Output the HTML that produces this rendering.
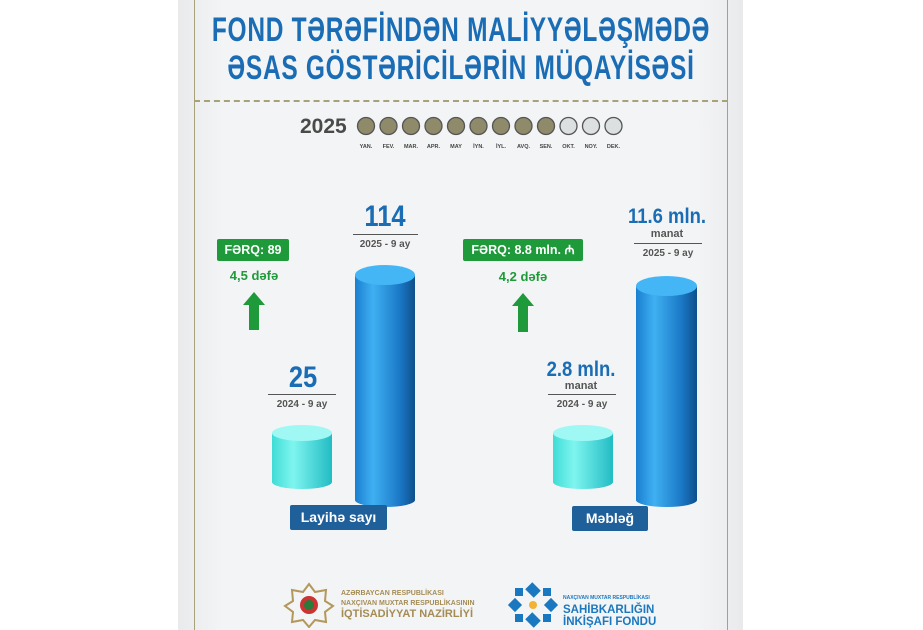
<!DOCTYPE html><html><head><meta charset="utf-8"><style>
body{margin:0;width:923px;height:630px;background:#fff;position:relative;overflow:hidden;font-family:"Liberation Sans",sans-serif}
.a{position:absolute}
.c{position:absolute;transform:translateX(-50%);white-space:nowrap;text-align:center}
.t{font-weight:bold;color:#1a6db5;font-size:34px;letter-spacing:1px;transform:translateX(-50%) scaleX(0.72)}
.sm{font-size:10px;font-weight:bold;color:#555}
.hl{position:absolute;height:1px;background:#555}
.box{position:absolute;background:#1f9a3a;color:#fff;font-weight:bold;font-size:12.5px;border-radius:2px;text-align:center;line-height:22px}
.g{color:#1f9a3a;font-weight:bold;font-size:13px}
.btn{position:absolute;background:#1f5f9a;color:#fff;font-weight:bold;font-size:14px;text-align:center;line-height:25px;border-radius:2px}
</style></head><body>
<div class="a" style="left:178px;top:0;width:565px;height:630px;background:linear-gradient(90deg,#e9eaec,#f3f4f5 8%,#f3f4f5 92%,#e9eaec)"></div>
<div class="a" style="left:194px;top:0;width:1px;height:630px;background:#a8a279"></div>
<div class="a" style="left:727px;top:0;width:1px;height:630px;background:#a8a279"></div>
<div class="a" style="left:194px;top:100px;width:534px;height:0;border-top:2px dashed #a8a279"></div>
<div class="c t" style="left:461px;top:11px">FOND TƏRƏFİNDƏN MALİYYƏLƏŞMƏDƏ</div>
<div class="c t" style="left:461px;top:49px">ƏSAS GÖSTƏRİCİLƏRİN MÜQAYİSƏSİ</div>
<div class="a" style="left:300px;top:115px;font-size:21px;font-weight:bold;color:#4a4a4a">2025</div>
<svg class="a" style="left:355px;top:115px" width="270" height="40">
<g stroke="#555" stroke-width="1.3">
<circle cx="11" cy="11" r="8.5" fill="#8e8a6a"/><circle cx="33.5" cy="11" r="8.5" fill="#8e8a6a"/><circle cx="56" cy="11" r="8.5" fill="#8e8a6a"/><circle cx="78.5" cy="11" r="8.5" fill="#8e8a6a"/><circle cx="101" cy="11" r="8.5" fill="#8e8a6a"/><circle cx="123.5" cy="11" r="8.5" fill="#8e8a6a"/><circle cx="146" cy="11" r="8.5" fill="#8e8a6a"/><circle cx="168.5" cy="11" r="8.5" fill="#8e8a6a"/><circle cx="191" cy="11" r="8.5" fill="#8e8a6a"/><circle cx="213.5" cy="11" r="8.5" fill="#dde0e1"/><circle cx="236" cy="11" r="8.5" fill="#dde0e1"/><circle cx="258.5" cy="11" r="8.5" fill="#dde0e1"/></g>
<g font-size="5.5" font-weight="bold" fill="#444" text-anchor="middle" font-family="Liberation Sans">
<text x="11" y="33">YAN.</text><text x="33.5" y="33">FEV.</text><text x="56" y="33">MAR.</text><text x="78.5" y="33">APR.</text><text x="101" y="33">MAY</text><text x="123.5" y="33">İYN.</text><text x="146" y="33">İYL.</text><text x="168.5" y="33">AVQ.</text><text x="191" y="33">SEN.</text><text x="213.5" y="33">OKT.</text><text x="236" y="33">NOY.</text><text x="258.5" y="33">DEK.</text></g></svg>
<svg class="a" style="left:0;top:0" width="923" height="630">
<defs>
<linearGradient id="b" x1="0" x2="1"><stop offset="0" stop-color="#1a7fd0"/><stop offset=".3" stop-color="#3fb0f2"/><stop offset=".75" stop-color="#1a78c6"/><stop offset="1" stop-color="#0f4f8a"/></linearGradient>
<linearGradient id="cy" x1="0" x2="1"><stop offset="0" stop-color="#3fdcd6"/><stop offset=".35" stop-color="#7ff5ef"/><stop offset="1" stop-color="#22bcc4"/></linearGradient>
</defs>
<path d="M272 433 V482 A30 7 0 0 0 332 482 V433Z" fill="url(#cy)"/><ellipse cx="302" cy="433" rx="30" ry="8" fill="#9ff8f3"/>
<path d="M553 433 V482 A30 7 0 0 0 613 482 V433Z" fill="url(#cy)"/><ellipse cx="583" cy="433" rx="30" ry="8" fill="#9ff8f3"/>
<path d="M355 275 V500 A30 7 0 0 0 415 500 V275Z" fill="url(#b)"/><ellipse cx="385" cy="275" rx="30" ry="10" fill="#45b6f5"/>
<path d="M636 286 V500 A30.5 7 0 0 0 697 500 V286Z" fill="url(#b)"/><ellipse cx="666.5" cy="286" rx="30.5" ry="10" fill="#45b6f5"/>
<path d="M254 292 L265 305 H259 V330 H249 V305 H243Z" fill="#1f9a3a"/>
<path d="M523 293 L534 306 H528 V332 H518 V306 H512Z" fill="#1f9a3a"/>
</svg>
<div class="c" style="left:385px;top:200px;font-size:30px;font-weight:bold;color:#1a6db5;transform:translateX(-50%) scaleX(.85)">114</div>
<div class="hl" style="left:353px;top:234px;width:65px"></div>
<div class="c sm" style="left:385px;top:239px">2025 - 9 ay</div>
<div class="c" style="left:303px;top:361px;font-size:30px;font-weight:bold;color:#1a6db5;transform:translateX(-50%) scaleX(.85)">25</div>
<div class="hl" style="left:268px;top:394px;width:68px"></div>
<div class="c sm" style="left:302px;top:399px">2024 - 9 ay</div>
<div class="c" style="left:667px;top:205px;font-size:21px;font-weight:bold;color:#1a6db5;line-height:24px;transform:translateX(-50%) scaleX(.88)">11.6 mln.</div>
<div class="c" style="left:667px;top:228px;font-size:11px;font-weight:bold;color:#555">manat</div>
<div class="hl" style="left:634px;top:243px;width:68px"></div>
<div class="c sm" style="left:668px;top:248px">2025 - 9 ay</div>
<div class="c" style="left:581px;top:358px;font-size:21px;font-weight:bold;color:#1a6db5;line-height:24px;transform:translateX(-50%) scaleX(.88)">2.8 mln.</div>
<div class="c" style="left:581px;top:380px;font-size:11px;font-weight:bold;color:#555">manat</div>
<div class="hl" style="left:548px;top:394px;width:68px"></div>
<div class="c sm" style="left:582px;top:399px">2024 - 9 ay</div>
<div class="box" style="left:217px;top:239px;width:72px">FƏRQ: 89</div>
<div class="c g" style="left:254px;top:268px">4,5 dəfə</div>
<div class="box" style="left:463px;top:239px;width:120px">FƏRQ: 8.8 mln. ₼</div>
<div class="c g" style="left:523px;top:269px">4,2 dəfə</div>
<div class="btn" style="left:290px;top:505px;width:97px">Layihə sayı</div>
<div class="btn" style="left:572px;top:506px;width:76px">Məbləğ</div>
<svg class="a" style="left:283px;top:582px" width="52" height="46"><polygon points="26,2 32,10 43,8 42,19 50,24 42,30 43,40 32,38 26,45 20,38 9,40 10,30 2,24 10,19 9,8 20,10" fill="none" stroke="#b3975b" stroke-width="2"/><circle cx="26" cy="23" r="9" fill="#c33"/><circle cx="26" cy="23" r="5" fill="#2a7a3a"/></svg>
<div class="a" style="left:341px;top:589px;font-size:7px;color:#a58c55;line-height:10px;font-weight:bold">AZƏRBAYCAN RESPUBLİKASI<br>NAXÇIVAN MUXTAR RESPUBLİKASININ<br><span style="font-size:11px">İQTİSADİYYAT NAZİRLİYİ</span></div>
<svg class="a" style="left:507px;top:582px" width="52" height="46"><g fill="#1a78c0"><rect x="20" y="3" width="12" height="10" transform="rotate(45 26 8)"/><rect x="20" y="33" width="12" height="10" transform="rotate(45 26 38)"/><rect x="3" y="18" width="10" height="10" transform="rotate(45 8 23)"/><rect x="39" y="18" width="10" height="10" transform="rotate(45 44 23)"/><rect x="8" y="6" width="8" height="8"/><rect x="36" y="6" width="8" height="8"/><rect x="8" y="32" width="8" height="8"/><rect x="36" y="32" width="8" height="8"/></g><circle cx="26" cy="23" r="4" fill="#f2b233"/></svg>
<div class="a" style="left:563px;top:590px;color:#1a78c0;font-weight:bold;font-size:11.5px;line-height:12px"><span style="font-size:5px">NAXÇIVAN MUXTAR RESPUBLİKASI</span><br>SAHİBKARLIĞIN<br>İNKİŞAFI FONDU</div>
</body></html>
